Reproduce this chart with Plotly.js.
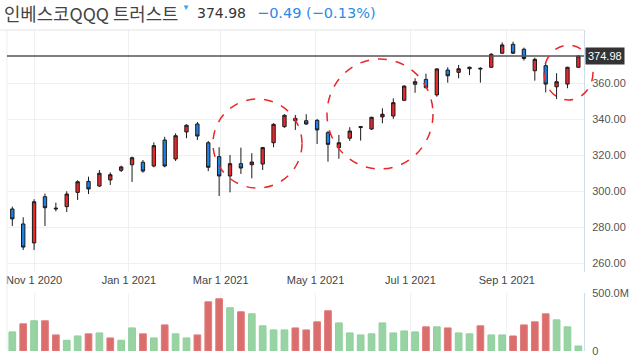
<!DOCTYPE html>
<html>
<head>
<meta charset="utf-8">
<script src="https://cdn.plot.ly/plotly-3.0.1.min.js"></script>
<style>html,body{margin:0;padding:0;background:#fff;}#chart{width:630px;height:358px;}</style>
</head>
<body>
<div id="chart"></div>
<script>
// Weekly bars (week start dates)
const dates = ["2020-10-18","2020-10-25","2020-11-01","2020-11-08","2020-11-15","2020-11-22","2020-11-29",
"2020-12-06","2020-12-13","2020-12-20","2020-12-27","2021-01-03","2021-01-10","2021-01-17","2021-01-24",
"2021-01-31","2021-02-07","2021-02-14","2021-02-21","2021-02-28","2021-03-07","2021-03-14","2021-03-21",
"2021-03-28","2021-04-04","2021-04-11","2021-04-18","2021-04-25","2021-05-02","2021-05-09","2021-05-16",
"2021-05-23","2021-05-30","2021-06-06","2021-06-13","2021-06-20","2021-06-27","2021-07-04","2021-07-11",
"2021-07-18","2021-07-25","2021-08-01","2021-08-08","2021-08-15","2021-08-22","2021-08-29","2021-09-05",
"2021-09-12","2021-09-19","2021-09-26","2021-10-03","2021-10-10","2021-10-17"];
const openP  = [290.2,281.9,271.4,297.0,290.2,291.5,299.4,305.5,302.9,306.3,311.6,314.7,316.1,314.0,328.4,317.9,332.9,337.3,326.9,319.2,308.5,315.3,314.7,315.1,326.9,335.8,340.4,339.1,339.3,332.5,324.2,329.4,335.3,334.5,341.2,341.7,350.4,359.3,362.0,353.4,367.2,365.9,367.9,367.7,368.7,376.5,381.4,378.7,366.8,369.6,357.9,359.4,368.7];
const highP  = [291.5,285.6,295.6,298.7,293.7,300.0,306.1,308.1,311.8,310.5,314.2,319.2,317.3,327.1,330.2,332.1,337.1,338.4,327.9,324.4,320.1,324.2,321.1,324.6,337.7,342.7,342.3,342.7,340.1,333.4,331.2,335.5,336.0,341.3,346.0,351.5,358.6,362.6,365.2,368.2,368.7,370.0,369.1,368.7,376.5,382.5,382.9,379.6,374.0,370.9,365.4,369.0,375.3];
const lowP   = [280.8,267.5,267.5,280.8,288.9,288.5,295.2,298.5,302.5,303.5,310.7,305.2,310.3,313.3,313.3,316.8,329.4,328.4,311.2,297.4,299.4,309.6,307.2,311.8,324.4,335.2,334.0,336.7,326.2,316.4,318.0,327.9,328.1,334.0,337.7,340.1,350.0,354.6,357.0,352.4,360.2,362.6,364.4,360.2,368.5,376.1,376.1,372.4,361.3,354.8,351.1,357.1,368.5];
const closeP = [284.7,269.1,294.2,290.9,290.6,298.5,305.3,301.3,310.0,309.2,313.5,318.6,311.2,325.3,314.0,330.8,336.6,330.6,313.3,308.5,315.3,312.9,316.2,324.2,337.1,342.1,339.1,337.3,334.0,326.0,326.9,333.4,335.8,341.0,342.7,349.1,358.3,360.7,357.4,367.8,364.0,367.9,368.7,368.1,375.9,381.1,376.5,373.6,373.1,359.4,360.7,368.7,374.98];
const volumeM = [164,233,259,259,138,92,129,147,155,112,92,198,147,112,224,147,112,138,422,448,371,336,319,216,181,181,198,181,250,345,241,155,138,147,241,155,172,164,207,207,198,155,147,216,138,138,129,224,250,319,267,207,43];
const priceTicks = [260,280,300,320,340,360];
const dateTicks = ["2020-11-01","2021-01-01","2021-03-01","2021-05-01","2021-07-01","2021-09-01"];
const dateTickText = ["Nov 1 2020","Jan 1 2021","Mar 1 2021","May 1 2021","Jul 1 2021","Sep 1 2021"];
const lastPrice = 374.98;
const titleName = "인베스코QQQ 트러스트";
const changeText = "\u22120.49 (\u22120.13%)";

const volColors = closeP.map((c,i)=> (i===0 || c>=closeP[i-1]) ? "rgba(126,200,140,0.8)" : "rgba(214,84,84,0.85)");
const volLine = closeP.map((c,i)=> (i===0 || c>=closeP[i-1]) ? "#8fd09c" : "#e07a7a");

const candle = {
  type:"candlestick", x:dates, open:openP, high:highP, low:lowP, close:closeP,
  xaxis:"x", yaxis:"y",
  increasing:{line:{color:"#1a1a1a",width:1}, fillcolor:"#e8282b"},
  decreasing:{line:{color:"#1a1a1a",width:1}, fillcolor:"#1d82e6"},
  whiskerwidth:0, hoverinfo:"skip", showlegend:false
};
const vol = {
  type:"bar", x:dates, y:volumeM.map(v=>v*1e6), xaxis:"x2", yaxis:"y2",
  marker:{color:volColors, line:{color:volLine,width:1}},
  width: 4.3*86400000, showlegend:false, hoverinfo:"skip"
};

const xRange = ["2020-10-14 14:00","2021-10-20 15:00"];
const layout = {
  width:630, height:358,
  margin:{l:7,r:46,t:30,b:7},
  paper_bgcolor:"#fff", plot_bgcolor:"#fff",
  font:{family:"Arial, 'Liberation Sans', sans-serif", size:11, color:"#444"},
  showlegend:false,
  boxgap:0.56,
  xaxis:{domain:[0,1], anchor:"y", range:xRange, type:"date", rangeslider:{visible:false},
    tickvals:dateTicks, ticktext:dateTickText, ticks:"", showgrid:true, gridcolor:"#efefef",
    zeroline:false, showline:false, tickfont:{size:11,color:"#444"}},
  xaxis2:{domain:[0,1], anchor:"y2", range:xRange, type:"date", matches:"x",
    tickvals:dateTicks, showticklabels:false, ticks:"", showgrid:true, gridcolor:"#f1f1f1", zeroline:false},
  yaxis:{domain:[0.2461,1], range:[255.29,389.36], side:"right", tickvals:priceTicks, tickformat:".2f",
    showgrid:true, gridcolor:"#f0f0f0", zeroline:false, showline:true, linecolor:"#cfdcea", linewidth:1,
    ticks:"", ticklabelstandoff:5, tickfont:{size:11,color:"#555"}},
  yaxis2:{domain:[0,0.1816], range:[0,500e6], side:"right", tickvals:[0,500e6], ticktext:["0","500.0M"],
    showgrid:false, zeroline:false, showline:true, linecolor:"#cfdcea", linewidth:1,
    ticks:"", ticklabelstandoff:5, tickfont:{size:11,color:"#555"}},
  shapes:[
    {type:"line", xref:"paper", yref:"paper", x0:-0.02, x1:1, y0:1, y1:1, line:{color:"#e3e3e3",width:1}},
    {type:"line", xref:"paper", yref:"paper", x0:0, x1:0, y0:0, y1:1, line:{color:"#eeeeee",width:1}},
    {type:"line", xref:"paper", yref:"y", x0:0, x1:1, y0:lastPrice, y1:lastPrice, line:{color:"#555",width:1.5}},
    {type:"circle", xref:"paper", yref:"paper", x0:0.357, x1:0.5113, y0:0.5078, y1:0.785, line:{color:"#e8282b",width:1.5,dash:"dash"}},
    {type:"circle", xref:"paper", yref:"paper", x0:0.5546, x1:0.7383, y0:0.567, y1:0.9097, line:{color:"#e8282b",width:1.5,dash:"dash"}},
    {type:"circle", xref:"paper", yref:"paper", x0:0.9307, x1:1.0156, y0:0.782, y1:0.953, line:{color:"#e8282b",width:1.5,dash:"dash"}}
  ],
  annotations:[
    {xref:"paper", yref:"y", x:1, xanchor:"left", xshift:1, y:lastPrice, yanchor:"middle",
     text:lastPrice.toFixed(2), showarrow:false, bgcolor:"#333", borderpad:2,
     font:{size:11,color:"#fff",family:"Arial, 'Liberation Sans', sans-serif"}},
    {xref:"paper", yref:"paper", x:-0.0087, xanchor:"left", y:1.053, yanchor:"middle", showarrow:false,
     text:titleName, font:{size:17.8,color:"#444",family:"'Noto Sans CJK KR', 'Noto Sans', sans-serif"}},
    {xref:"paper", yref:"paper", x:0.311, xanchor:"center", y:1.07, yanchor:"middle", showarrow:false,
     text:"\u25BC", font:{size:8,color:"#3aa0f0"}},
    {xref:"paper", yref:"paper", x:0.325, xanchor:"left", y:1.053, yanchor:"middle", showarrow:false,
     text:"374.98", font:{size:14,color:"#333",family:"'DejaVu Sans', sans-serif"}},
    {xref:"paper", yref:"paper", x:0.43, xanchor:"left", y:1.053, yanchor:"middle", showarrow:false,
     text:changeText, font:{size:14.5,color:"#2a8ae6",family:"'DejaVu Sans', sans-serif"}}
  ]
};
Plotly.newPlot("chart",[candle,vol],layout,{displayModeBar:false,staticPlot:true});
</script>
</body>
</html>
